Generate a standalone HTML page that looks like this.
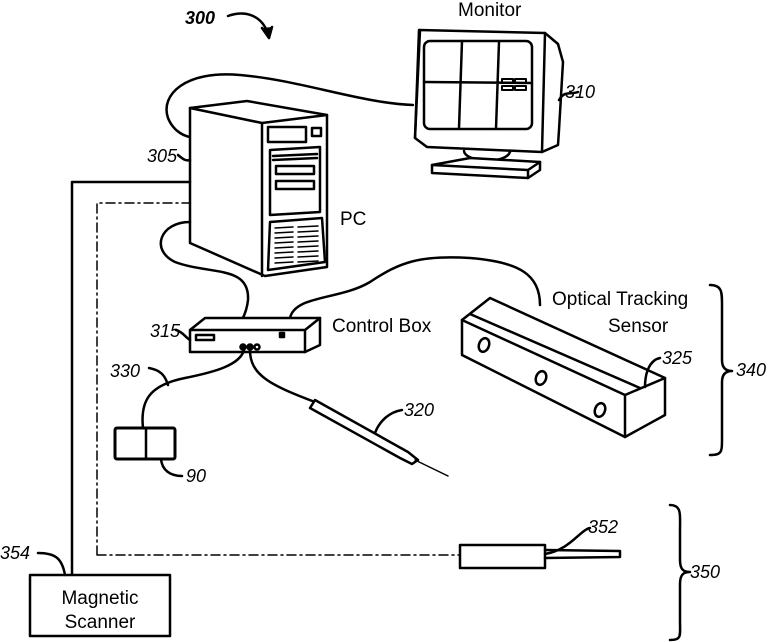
<!DOCTYPE html>
<html><head><meta charset="utf-8"><style>
html,body{margin:0;padding:0;background:#fff;}
svg{display:block;}
text{font-family:"Liberation Sans",sans-serif;fill:#000;}
.i{font-style:italic;font-size:18px;}
.l{font-size:19px;}
</style></head><body>
<svg width="782" height="642" viewBox="0 0 782 642" xmlns="http://www.w3.org/2000/svg" fill="none" stroke="#000" stroke-width="2.5" stroke-linejoin="round" stroke-linecap="round">
<text x="185" y="24" class="i" font-weight="bold" stroke="none" font-size="21">300</text>
<path d="M228 16 C245 10 262 15 268 34"/><path d="M262 28 L269 38 L272 27" fill="#000"/>
<text x="458" y="16" class="l" stroke="none">Monitor</text>
<path d="M419 30 L545 33 L558 44 L563 62 L559 130 L558 145 L542 152 L427 147 L415 138 Z" fill="#fff"/>
<path d="M545 33 L542 152 M420 30 L415 138"/>
<rect x="424" y="41" width="108" height="88" rx="6"/>
<path d="M462 41 L459 128 M499 42 L496 129 M424 82 L532 83"/>
<rect x="502" y="79" width="11" height="4" stroke-width="2"/><rect x="515" y="79" width="11" height="4" stroke-width="2"/><rect x="502" y="86" width="11" height="4" stroke-width="2"/><rect x="515" y="86" width="11" height="4" stroke-width="2"/>
<path d="M464 151 C465 162 505 165 510 152"/>
<path d="M432 165 L470 158 L540 162 L540 170 L528 178 L432 173 Z" fill="#fff"/>
<path d="M432 165 L528 170 L540 162 M528 170 L528 178"/>
<path d="M559 100 C565 90 570 95 578 92"/>
<text x="565" y="98" class="i" stroke="none">310</text>
<path d="M413 105 C360 103 300 80 240 75 C185 70 160 95 168 118 C172 128 180 135 190 137"/>
<path d="M190 108 L247 101 L327 115 L327 267 L265 276 L190 243 Z" fill="#fff"/>
<path d="M190 108 L262 123 L327 115 M262 123 L262 276"/>
<rect x="268" y="127" width="38" height="15"/><rect x="312" y="128" width="9" height="8"/>
<path d="M270 150 L320 147 L320 212 L270 215 Z"/>
<rect x="276" y="166" width="38" height="8"/><rect x="276" y="181" width="38" height="8"/>
<path d="M273 156 L317 154 M273 160 L317 158"/>
<path d="M270 222 L322 218 L325 262 L268 270 Z"/>
<g stroke-width="1.5"><path d="M275 228 L293 227 M298 227 L318 226 M275 233 L293 232 M298 232 L318 231 M275 238 L293 237 M298 237 L318 236 M275 243 L293 242 M298 242 L318 241 M275 248 L293 247 M298 247 L318 246 M275 253 L293 252 M298 252 L318 251 M275 258 L293 257 M298 257 L318 256 M275 263 L293 262 M298 262 L318 261"/></g>
<text x="340" y="225" class="l" stroke="none">PC</text>
<text x="147" y="162" class="i" stroke="none">305</text>
<path d="M178 155 C184 160 186 161 190 160"/>
<path d="M72 575 L72 182 L190 182"/>
<path d="M97 555 L97 203 L190 203 M97 555 L460 555" stroke-dasharray="9 4 2 4" stroke-width="1.5"/>
<rect x="30" y="575" width="140" height="61" fill="#fff"/>
<text x="100" y="604" class="l" stroke="none" text-anchor="middle">Magnetic</text>
<text x="100" y="628" class="l" stroke="none" text-anchor="middle">Scanner</text>
<text x="0" y="559" class="i" stroke="none">354</text>
<path d="M38 553 C55 553 62 558 65 575"/>
<rect x="460" y="545" width="85" height="23" fill="#fff"/>
<path d="M545 550 L620 551 L620 557 L545 558"/>
<path d="M545 554 C570 550 580 530 590 528"/>
<text x="588" y="533" class="i" stroke="none">352</text>
<path d="M670 505 C682 505 680 515 680 530 L680 560 C680 570 684 572 690 572 C684 572 680 574 680 584 L680 620 C680 636 682 640 670 640"/>
<text x="690" y="578" class="i" stroke="none">350</text>
<path d="M710 285 C722 285 722 292 722 305 L722 360 C722 368 726 371 732 371 C726 371 722 374 722 382 L722 438 C722 452 722 455 710 455"/>
<text x="736" y="376" class="i" stroke="none">340</text>
<path d="M190 222 C160 222 150 250 175 262 C210 275 250 265 248 300 C247 310 244 316 242 320"/>
<path d="M290 318 C295 295 340 300 370 282 C400 262 420 255 470 258 C520 262 540 275 540 305"/>
<path d="M190 330 L205 318 L320 318 L320 345 L305 352 L190 352 Z" fill="#fff"/>
<path d="M190 330 L305 330 L320 318 M305 330 L305 352"/>
<rect x="196" y="335" width="18" height="5"/><rect x="280" y="333" width="4" height="4" fill="#000"/>
<circle cx="243" cy="347" r="2.5" fill="#000"/><circle cx="250" cy="347" r="2.5" fill="#000"/><circle cx="257" cy="347" r="2.5"/>
<text x="332" y="332" class="l" stroke="none">Control Box</text>
<text x="150" y="337" class="i" stroke="none">315</text>
<path d="M176 330 C183 332 185 337 190 340"/>
<path d="M244 350 C240 365 215 372 185 378 C150 385 140 400 143 428"/>
<path d="M149 368 C160 370 165 375 168 385"/>
<text x="110" y="377" class="i" stroke="none">330</text>
<rect x="115" y="428" width="60" height="31" rx="2" stroke-width="3"/>
<path d="M146 428 L146 459"/>
<path d="M161 459 C162 470 170 476 182 476"/>
<text x="186" y="482" class="i" stroke="none">90</text>
<path d="M250 350 C250 375 270 385 315 402"/>
<path d="M315 400 L408 452 L418 460 L412 464 L400 458 L310 408 Z" fill="#fff"/>
<path d="M415 460 L448 476" stroke-width="1.5"/>
<path d="M375 433 C380 420 390 412 402 410"/>
<text x="404" y="416" class="i" stroke="none">320</text>
<path d="M462 320 L490 298 L665 378 L665 415 L625 437 L462 355 Z" fill="#fff"/>
<path d="M462 320 L625 395 L665 378 M625 395 L625 437 M470 314 L640 388"/>
<ellipse cx="484" cy="345" rx="5" ry="7" transform="rotate(20 484 345)"/>
<ellipse cx="541" cy="378" rx="5" ry="7" transform="rotate(20 541 378)"/>
<ellipse cx="600" cy="410" rx="5" ry="7" transform="rotate(20 600 410)"/>
<path d="M645 387 C645 372 650 360 660 358"/>
<text x="662" y="364" class="i" stroke="none">325</text>
<text x="552" y="305" class="l" stroke="none">Optical Tracking</text>
<text x="608" y="332" class="l" stroke="none">Sensor</text>
</svg>
</body></html>
